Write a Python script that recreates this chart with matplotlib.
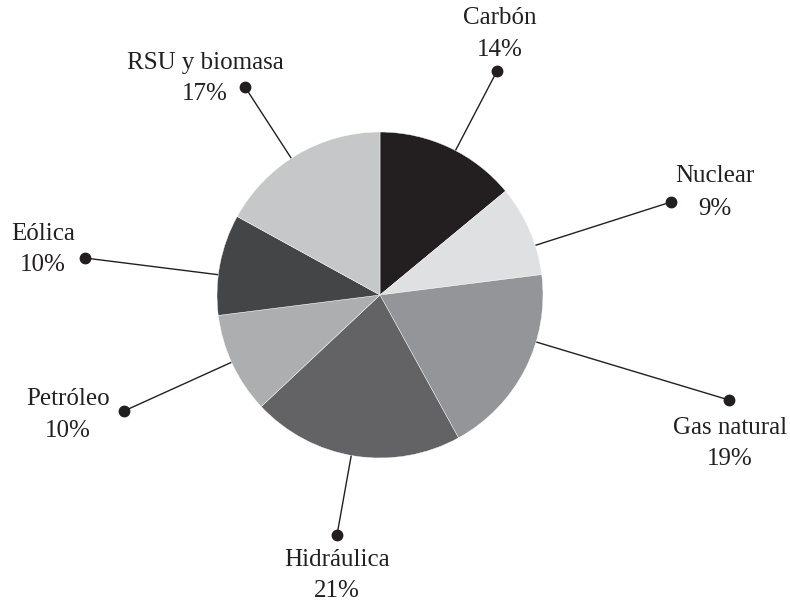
import matplotlib.pyplot as plt

# Datos (sentido horario desde las 12)
labels = ['Carbón', 'Nuclear', 'Gas natural', 'Hidráulica', 'Petróleo', 'Eólica', 'RSU y biomasa']
values = [14, 9, 19, 21, 10, 10, 17]
colors = ['#231f20', '#dfe0e1', '#939598', '#636365', '#adaeb0', '#444547', '#c6c7c9']

W, H = 790, 602
cx, cy, r = 380, H - 295, 163

# posición del punto de cada etiqueta (px, y desde arriba)
dot_x = [497, 671, 729, 337, 124, 85, 245]
dot_y = [71, 202, 400, 535, 411, 258, 87]
# centro del texto (nombre y porcentaje)
txt_x = [500, 715, 730, 337, 68, 43, 205]
name_y = [18, 176, 428, 560, 399, 234, 63]
pct_y = [50, 209, 459, 591, 431, 265, 94]

fig = plt.figure(figsize=(W / 100, H / 100), dpi=100)
ax = fig.add_axes([0, 0, 1, 1])

ax.pie(values, colors=colors, startangle=90, counterclock=False,
       center=(cx, cy), radius=r, frame=True,
       wedgeprops=dict(edgecolor='white', linewidth=0.3, zorder=3))

ink = '#231f20'
for i, lab in enumerate(labels):
    dx, dy = dot_x[i], H - dot_y[i]
    ax.plot([cx, dx], [cy, dy], color=ink, lw=1.0, zorder=1)
    ax.plot(dx, dy, 'o', color=ink, ms=7.5, zorder=4)
    ax.text(txt_x[i], H - name_y[i], lab, ha='center', va='center',
            fontsize=18, family='Liberation Serif', color=ink)
    ax.text(txt_x[i], H - pct_y[i], f'{values[i]}%', ha='center', va='center',
            fontsize=18, family='Liberation Serif', color=ink)

ax.set_xlim(0, W)
ax.set_ylim(0, H)
ax.set_aspect('equal')
ax.axis('off')

fig.savefig('out.png', dpi=100, facecolor='white')
